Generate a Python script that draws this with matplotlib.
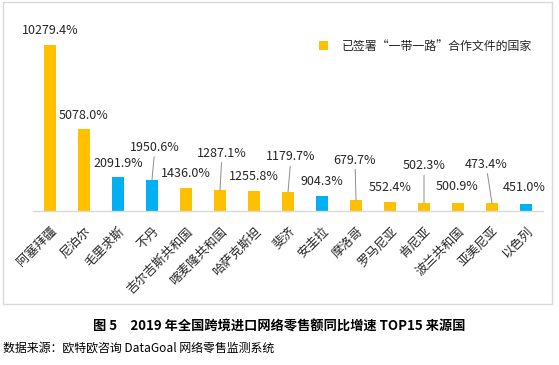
import matplotlib
matplotlib.use("Agg")
import matplotlib.pyplot as plt
from matplotlib.patches import Rectangle

plt.rcParams['font.family'] = ['Noto Sans CJK SC', 'DejaVu Sans']

countries = ["阿塞拜疆", "尼泊尔", "毛里求斯", "不丹", "吉尔吉斯共和国", "喀麦隆共和国",
             "哈萨克斯坦", "斐济", "安圭拉", "摩洛哥", "罗马尼亚", "肯尼亚",
             "波兰共和国", "亚美尼亚", "以色列"]
growth = [10279.4, 5078.0, 2091.9, 1950.6, 1436.0, 1287.1, 1255.8, 1179.7,
          904.3, 679.7, 552.4, 502.3, 500.9, 473.4, 451.0]
belt_road = [True, True, False, False, True, True, True, True,
             False, True, True, True, True, True, False]
value_labels = ["10279.4%", "5078.0%", "2091.9%", "1950.6%", "1436.0%", "1287.1%",
                "1255.8%", "1179.7%", "904.3%", "679.7%", "552.4%", "502.3%",
                "500.9%", "473.4%", "451.0%"]

# label offsets in pixels from bar top, and whether a leader line is drawn
label_dx = [0, 0, 0, 3, 0, 2, 0, 3, 0, -1, 0, 0, -1, -6, -2]
label_dy = [15, 13, 14, 32, 14, 37, 14, 35, 15, 40, 15, 37, 16, 39, 16]
leader = [False, False, False, True, False, True, False, True,
          False, True, False, True, False, True, False]

ORANGE = "#FFC000"
BLUE = "#00B0F0"

W, H = 559, 365
fig = plt.figure(figsize=(W / 100, H / 100), dpi=100)
ax = fig.add_axes([33 / W, (H - 211) / H, 510 / W, 191 / H])

x = list(range(len(countries)))
ox = [i for i in x if belt_road[i]]
bx = [i for i in x if not belt_road[i]]
ax.bar(ox, [growth[i] for i in ox], width=0.33, color=ORANGE,
       label="已签署“一带一路”合作文件的国家")
ax.bar(bx, [growth[i] for i in bx], width=0.33, color=BLUE)

ax.set_xlim(-0.5, len(countries) - 0.5)
ax.set_ylim(0, 10279.4 * 191 / 166)

for i in x:
    kw = {}
    if leader[i]:
        kw["arrowprops"] = dict(arrowstyle="-", color="#8c8c8c", lw=0.7,
                                shrinkA=0, shrinkB=0)
    ax.annotate(value_labels[i], xy=(i, growth[i]),
                xytext=(label_dx[i], label_dy[i]), textcoords="offset pixels",
                ha="center", va="center", fontsize=9, color="#262626", **kw)

ax.set_xticks(x)
ax.set_xticklabels(countries, rotation=45, ha="right", rotation_mode="anchor",
                   fontsize=9, color="#262626")
ax.tick_params(axis="x", length=0, pad=10)
ax.set_yticks([])
for s in ["top", "right", "left"]:
    ax.spines[s].set_visible(False)
ax.spines["bottom"].set_color("#d9d9d9")
ax.spines["bottom"].set_linewidth(1)

ax.legend(loc="center left", bbox_to_anchor=(319 / W, 1 - 46 / H),
          bbox_transform=fig.transFigure, frameon=False, fontsize=8.6,
          borderpad=0, borderaxespad=0, handlelength=0.75, handleheight=0.75,
          handletextpad=1.15, labelcolor="#262626")

# outer frame around the chart area
fig.patches.append(Rectangle((3 / W, 1 - 304 / H), 549 / W, 302 / H,
                             transform=fig.transFigure, fill=False,
                             edgecolor="#d9d9d9", lw=1))

fig.text(0.5, 1 - 327 / H, "图 5　2019 年全国跨境进口网络零售额同比增速 TOP15 来源国",
         ha="center", va="center", fontsize=9.5, fontweight="bold", color="#000000")
fig.text(3 / W, 1 - 348 / H, "数据来源：欧特欧咨询 DataGoal 网络零售监测系统",
         ha="left", va="center", fontsize=8.6, color="#000000")

fig.savefig("out.png", dpi=100)
